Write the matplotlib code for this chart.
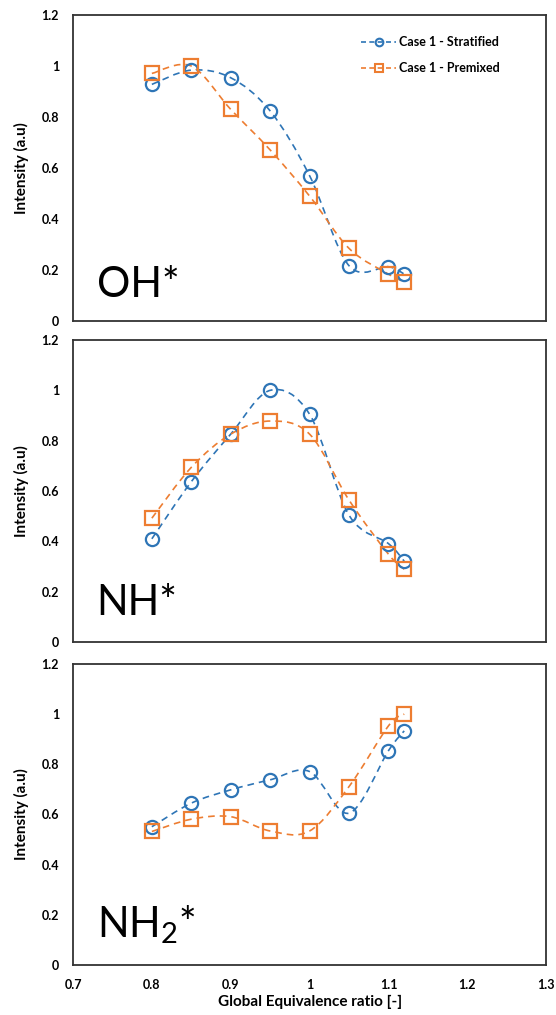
import numpy as np
from matplotlib import pyplot as plt
from matplotlib.path import Path
from matplotlib.patches import PathPatch
from matplotlib.lines import Line2D

plt.rcParams['font.family'] = ['Lato', 'DejaVu Sans']
plt.rcParams['mathtext.fontset'] = 'custom'
plt.rcParams['mathtext.rm'] = 'Lato'
plt.rcParams['mathtext.default'] = 'regular'

# global equivalence ratio
phi = [0.8, 0.85, 0.9, 0.95, 1.0, 1.05, 1.1, 1.12]

# normalised chemiluminescence intensity
oh_strat = [0.928, 0.984, 0.954, 0.824, 0.570, 0.217, 0.213, 0.184]
oh_premix = [0.971, 1.0, 0.830, 0.671, 0.490, 0.285, 0.184, 0.154]
nh_strat = [0.410, 0.637, 0.826, 1.0, 0.905, 0.504, 0.391, 0.321]
nh_premix = [0.492, 0.694, 0.826, 0.878, 0.826, 0.564, 0.349, 0.289]
nh2_strat = [0.551, 0.645, 0.698, 0.738, 0.771, 0.605, 0.854, 0.933]
nh2_premix = [0.532, 0.581, 0.591, 0.534, 0.534, 0.711, 0.953, 1.0]

species = ['OH*', 'NH*', 'NH$_2$*']
strat = [oh_strat, nh_strat, nh2_strat]
premix = [oh_premix, nh_premix, nh2_premix]

ytick_labels = ['0', '0.2', '0.4', '0.6', '0.8', '1', '1.2']
xtick_labels = ['0.7', '0.8', '0.9', '1', '1.1', '1.2', '1.3']

blue = '#2e75b6'
orange = '#ed7d31'


def smooth_path(x, y):
    # Catmull-Rom through the points, written as cubic bezier segments
    pts = np.column_stack([x, y])
    p = np.vstack([pts[0], pts, pts[-1]])
    verts = [pts[0]]
    codes = [Path.MOVETO]
    for i in range(1, len(p) - 2):
        c1 = p[i] + (p[i + 1] - p[i - 1]) / 6
        c2 = p[i + 1] - (p[i + 2] - p[i]) / 6
        verts += [c1, c2, p[i + 1]]
        codes += [Path.CURVE4] * 3
    return Path(verts, codes)


fig = plt.figure(figsize=(5.56, 10.15), dpi=100)
boxes = [[0.1313, 0.6837, 0.851, 0.3015],
         [0.1313, 0.3675, 0.851, 0.2975],
         [0.1313, 0.0493, 0.851, 0.2966]]
label_y = [0.078, 0.089, 0.09]

for k, box in enumerate(boxes):
    ax = fig.add_axes(box)
    for ys, col, mk in [(strat[k], blue, 'o'), (premix[k], orange, 's')]:
        ax.add_patch(PathPatch(smooth_path(phi, ys), fill=False, edgecolor=col,
                               lw=1.2, linestyle=(0, (4, 3))))
        ax.plot(phi, ys, linestyle='none', marker=mk, ms=9.5, mfc='none',
                mec=col, mew=1.6)
    ax.set_xlim(0.7, 1.3)
    ax.set_ylim(0, 1.2)
    ax.set_yticks(np.arange(0, 1.21, 0.2))
    ax.set_yticklabels(ytick_labels, fontweight='bold', fontsize=9)
    ax.tick_params(axis='both', length=0, pad=10)
    for s in ax.spines.values():
        s.set_linewidth(1.3)
        s.set_color('#333333')
    ax.set_ylabel('Intensity (a.u)', fontsize=11, fontweight='bold', labelpad=9)
    ax.text(0.05, label_y[k], species[k], transform=ax.transAxes, fontsize=30,
            va='baseline', ha='left')
    if k < 2:
        ax.set_xticks([])
    else:
        ax.set_xticks(np.arange(0.7, 1.31, 0.1))
        ax.set_xticklabels(xtick_labels, fontweight='bold', fontsize=9)
        ax.set_xlabel('Global Equivalence ratio [-]', fontsize=11,
                      fontweight='bold', labelpad=3)
    if k == 0:
        handles = [Line2D([], [], color=blue, lw=1.2, ls=(0, (3, 2)), marker='o',
                          ms=5.5, mfc='none', mec=blue, mew=1.5),
                   Line2D([], [], color=orange, lw=1.2, ls=(0, (3, 2)), marker='s',
                          ms=5.5, mfc='none', mec=orange, mew=1.5)]
        ax.legend(handles, ['Case 1 - Stratified', 'Case 1 - Premixed'],
                  loc='upper right', bbox_to_anchor=(0.913, 0.948),
                  borderaxespad=0, frameon=False,
                  prop={'size': 9, 'weight': 'bold'}, handlelength=2.8,
                  handletextpad=0.25, labelspacing=1.15)

fig.savefig('out.png', dpi=100)
